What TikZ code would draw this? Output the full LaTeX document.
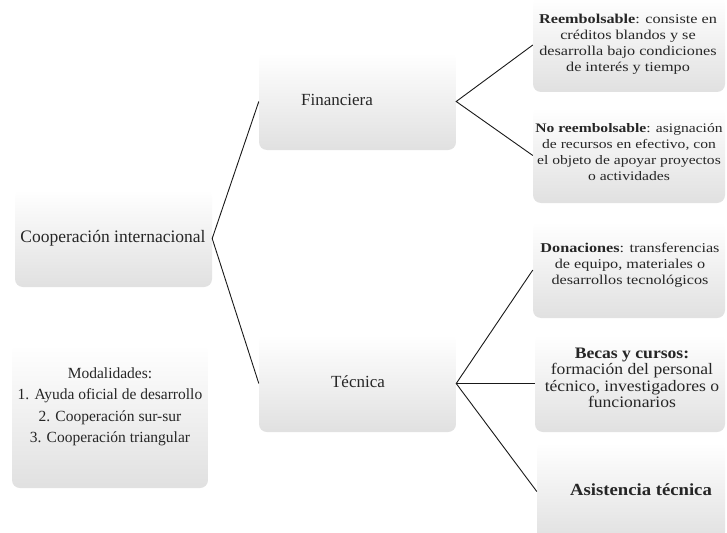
\documentclass[tikz,border=0pt]{standalone}
\usepackage{fontspec}
\setmainfont{Liberation Serif}
\newfontfamily\wideA[FakeStretch=1.2]{Liberation Serif}
\newfontfamily\wideB[FakeStretch=1.1]{Liberation Serif}
\begin{document}
\begin{tikzpicture}[x=1pt,y=-1pt,
  box/.style={rectangle, rounded corners=8pt, inner sep=0pt,
    top color=white, middle color=white, bottom color=black!12,
    draw=none},
  lbl/.style={inner sep=0pt, align=center, text=black!85},
  conn/.style={draw=black!90, line width=0.9pt}]
\clip (0,0) rectangle (727,532);
\fill[white] (0,0) rectangle (727,532);
% boxes
\node[box, minimum width=197pt, minimum height=97pt] (coop) at (113.5,238.5) {};
\node[box, minimum width=196pt, minimum height=143pt] (mod) at (110,416.5) {};
\node[box, minimum width=197pt, minimum height=97pt] (fin) at (357.5,101.5) {};
\node[box, minimum width=197pt, minimum height=97pt] (tec) at (357.5,383.5) {};
\node[box, minimum width=192pt, minimum height=94pt] (ree) at (629,45) {};
\node[box, minimum width=192pt, minimum height=95pt] (nor) at (629,155.5) {};
\node[box, minimum width=192pt, minimum height=96pt] (don) at (629,270) {};
\node[box, minimum width=190pt, minimum height=97pt] (bec) at (630,383.5) {};
\node[box, minimum width=188pt, minimum height=97pt] (asi) at (631,491.5) {};
% texts
\node[lbl, font=\fontsize{17.5}{20}\selectfont] (tcoop) at (113,238) {Cooperación internacional};
\node[lbl, font=\fontsize{15.5}{21.5}\selectfont] (tmod) at (110,407) {Modalidades:\\1. Ayuda oficial de desarrollo\\2. Cooperación sur-sur\\3. Cooperación triangular};
\node[lbl, font=\fontsize{17}{20}\selectfont] (tfin) at (337,100) {Financiera};
\node[lbl, font=\fontsize{17}{20}\selectfont] (ttec) at (358,382) {Técnica};
\node[lbl, font=\wideA\fontsize{13.5}{16}\selectfont] (tree) at (628,44) {\textbf{Reembolsable}: consiste en\\créditos blandos y se\\desarrolla bajo condiciones\\de interés y tiempo};
\node[lbl, font=\wideA\fontsize{13}{16}\selectfont] (tnor) at (629,152) {\textbf{No reembolsable}: asignación\\de recursos en efectivo, con\\el objeto de apoyar proyectos\\o actividades};
\node[lbl, font=\wideA\fontsize{13.5}{16}\selectfont] (tdon) at (630,265) {\textbf{Donaciones}: transferencias\\de equipo, materiales o\\desarrollos tecnológicos};
\node[lbl, font=\wideB\fontsize{16}{16.5}\selectfont] (tbec) at (632,378) {\textbf{Becas y cursos:}\\formación del personal\\técnico, investigadores o\\funcionarios};
\node[lbl, font=\wideB\fontsize{17}{20}\selectfont] (tasi) at (641,490) {\textbf{Asistencia técnica}};
% connectors
\draw[conn] (fin.west) -- (coop.east) -- (tec.west);
\draw[conn] (ree.west) -- (fin.east) -- (nor.west);
\draw[conn] (don.west) -- (tec.east) -- (asi.west);
\draw[conn] (tec.east) -- (bec.west);
\end{tikzpicture}
\end{document}
